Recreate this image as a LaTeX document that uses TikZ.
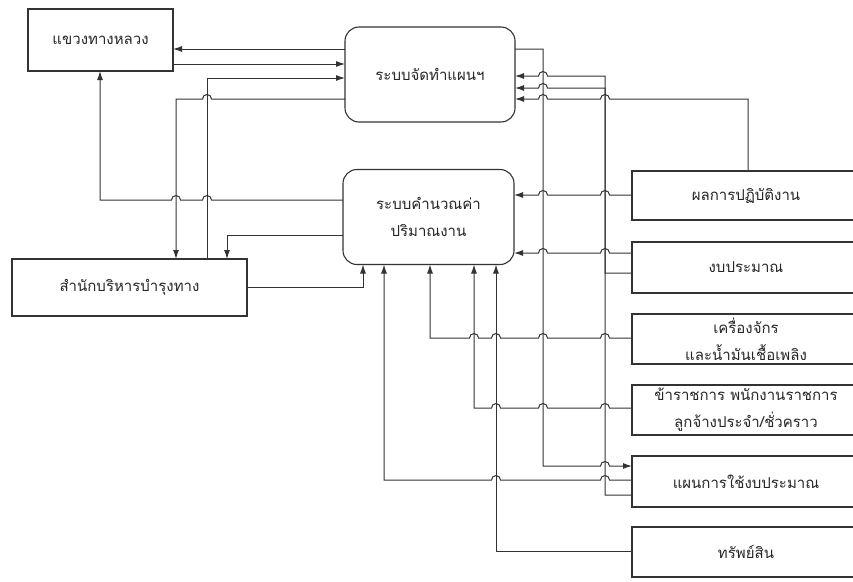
\documentclass[tikz,border=0pt]{standalone}
\usepackage{fontspec}
\newfontfamily\thaifont[Script=Thai]{Loma}
\usetikzlibrary{calc,arrows.meta}
\begin{document}
\begin{tikzpicture}[x=1pt,y=-1pt,
  every node/.style={font=\thaifont\fontsize{15}{27}\selectfont, text=black!85},
  sqbox/.style={draw=black!80, line width=1.1pt, inner sep=0pt, outer sep=0pt, align=center},
  rbox/.style={sqbox, rounded corners=14pt},
  rbx/.style={sqbox, minimum width=228, minimum height=50},
  conn/.style={draw=black!80, line width=1pt, -{Latex[length=9pt,width=6pt]}},
  hopL/.style 2 args={insert path={-- ($(#1|-#2)+(4.5,0)$) arc[start angle=0,end angle=180,radius=4.5pt]}},
  hopR/.style 2 args={insert path={-- ($(#1|-#2)+(-4.5,0)$) arc[start angle=180,end angle=0,radius=4.5pt]}}
]
\useasboundingbox (0,0) rectangle (853,581);
\clip (0,0) rectangle (853,581);
\fill[white] (0,0) rectangle (853,581);

% nodes
\node[rbox, minimum width=170, minimum height=95] (P) at (430,74.5) {ระบบจัดทำแผนฯ};
\node[rbox, minimum width=171, minimum height=95] (Q) at (428.5,217) {ระบบคำนวณค่า\\ปริมาณงาน};
\node[sqbox, minimum width=145, minimum height=62] (K) at (100.5,40) {แขวงทางหลวง};
\node[sqbox, minimum width=235, minimum height=57] (S) at (129.5,287.5) {สำนักบริหารบำรุงทาง};
\node[rbx, minimum height=49] (R1) at (746,195.5) {ผลการปฏิบัติงาน};
\node[rbx, minimum height=51] (R2) at (746,267.5) {งบประมาณ};
\node[rbx] (R3) at (746,339) {เครื่องจักร\\และน้ำมันเชื้อเพลิง};
\node[rbx] (R4) at (746,410) {ข้าราชการ พนักงานราชการ\\ลูกจ้างประจำ/ชั่วคราว};
\node[rbx, minimum height=51] (R5) at (746,481.5) {แผนการใช้งบประมาณ};
\node[rbx] (R6) at (746,552) {ทรัพย์สิน};

% routing coordinates
\coordinate (x100) at (100,0);
\coordinate (x176) at (176,0);
\coordinate (x207) at (207,0);
\coordinate (x227) at (227,0);
\coordinate (x363) at (363,0);
\coordinate (x384) at (384,0);
\coordinate (x430) at (430,0);
\coordinate (x474) at (474,0);
\coordinate (x496) at (496,0);
\coordinate (x543) at (543,0);
\coordinate (x605) at (605,0);
\coordinate (x748) at (748,0);
\coordinate (y49) at (0,49);
\coordinate (y64) at (0,64);
\coordinate (y76) at (0,76);
\coordinate (y78) at (0,78);
\coordinate (y88) at (0,88);
\coordinate (y99) at (0,99);
\coordinate (y195) at (0,195);
\coordinate (y200) at (0,200);
\coordinate (y235) at (0,235);
\coordinate (y253) at (0,253);
\coordinate (y273) at (0,273);
\coordinate (y287) at (0,287);
\coordinate (y338) at (0,338);
\coordinate (y408) at (0,408);
\coordinate (y466) at (0,466);
\coordinate (y480) at (0,480);
\coordinate (y495) at (0,495);
\coordinate (y551) at (0,551);

% left side
\draw[conn] (P.west |- y49) -- (K.east |- y49);
\draw[conn] (K.east |- y64) -- (P.west |- y64);
\draw[conn] (S.north -| x207) -- (x207 |- y78) -- (P.west |- y78);
\draw[conn] (P.west |- y99) [hopL={x207}{y99}] -- (x176 |- y99) -- (S.north -| x176);
\draw[conn] (Q.west |- y200) [hopL={x207}{y200}] [hopL={x176}{y200}] -- (x100 |- y200) -- (K.south -| x100);
\draw[conn] (Q.west |- y235) -- (x227 |- y235) -- (S.north -| x227);
\draw[conn] (S.east |- y287) -- (x363 |- y287) -- (Q.south -| x363);

% right side to P
\draw[conn] (P.east |- y49) -- (x543 |- y49) -- (x543 |- y466) [hopR={x605}{y466}] -- (R5.west |- y466);
\draw[conn] (R2.west |- y273) -- (x605 |- y273) -- (x605 |- y76) [hopL={x543}{y76}] -- (P.east |- y76);
\draw[conn] (R5.west |- y495) -- (x605 |- y495) -- (x605 |- y88) [hopL={x543}{y88}] -- (P.east |- y88);
\draw[conn] (R1.north -| x748) -- (x748 |- y99) [hopL={x605}{y99}] [hopL={x543}{y99}] -- (P.east |- y99);

% right side to Q
\draw[conn] (R1.west |- y195) [hopL={x605}{y195}] [hopL={x543}{y195}] -- (Q.east |- y195);
\draw[conn] (R2.west |- y253) [hopL={x605}{y253}] [hopL={x543}{y253}] -- (Q.east |- y253);
\draw[conn] (R3.west |- y338) [hopL={x605}{y338}] [hopL={x543}{y338}] [hopL={x496}{y338}] [hopL={x474}{y338}] -- (x430 |- y338) -- (Q.south -| x430);
\draw[conn] (R4.west |- y408) [hopL={x605}{y408}] [hopL={x543}{y408}] [hopL={x496}{y408}] -- (x474 |- y408) -- (Q.south -| x474);
\draw[conn] (R5.west |- y480) [hopL={x605}{y480}] [hopL={x496}{y480}] -- (x384 |- y480) -- (Q.south -| x384);
\draw[conn] (R6.west |- y551) -- (x496 |- y551) -- (Q.south -| x496);
\end{tikzpicture}
\end{document}
